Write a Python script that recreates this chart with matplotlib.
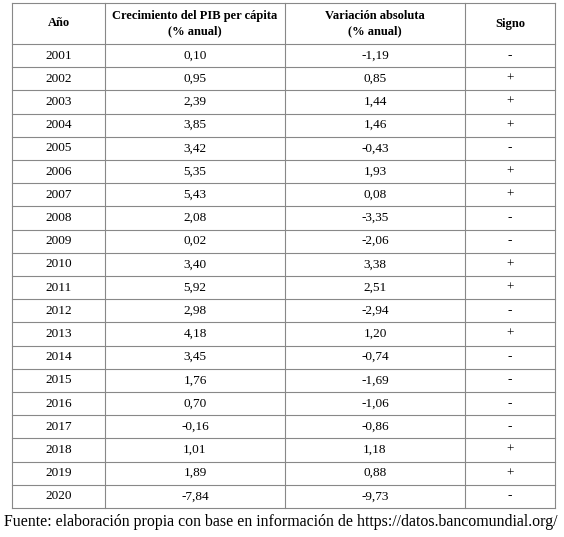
import matplotlib
matplotlib.use("Agg")
import matplotlib.pyplot as plt

years = list(range(2001, 2021))
growth = ["0,10","0,95","2,39","3,85","3,42","5,35","5,43","2,08","0,02","3,40",
          "5,92","2,98","4,18","3,45","1,76","0,70","-0,16","1,01","1,89","-7,84"]
absvar = ["-1,19","0,85","1,44","1,46","-0,43","1,93","0,08","-3,35","-2,06","3,38",
          "2,51","-2,94","1,20","-0,74","-1,69","-1,06","-0,86","1,18","0,88","-9,73"]
sign = ["-","+","+","+","-","+","+","-","-","+","+","-","+","-","-","-","-","+","+","-"]
headers = ["Año", "Crecimiento del PIB per cápita\n(% anual)", "Variación absoluta\n(% anual)", "Signo"]
caption = "Fuente: elaboración propia con base en información de https://datos.bancomundial.org/"

plt.rcParams['font.family'] = ['Liberation Serif', 'DejaVu Serif']
fig = plt.figure(figsize=(5.64, 5.37), dpi=100)
ax = fig.add_axes([0, 0, 1, 1])
ax.set_xlim(0, 564); ax.set_ylim(537, 0); ax.axis('off')

cols = [12, 105, 285, 465, 555]
top, head_bot, row_h = 3, 44, 23.2
n = len(years)
bottom = head_bot + n * row_h
lc = '#888888'
for x in cols:
    ax.plot([x, x], [top, bottom], color=lc, lw=0.8)
ax.plot([cols[0], cols[-1]], [top, top], color=lc, lw=0.8)
ax.plot([cols[0], cols[-1]], [head_bot, head_bot], color=lc, lw=0.8)
for i in range(n):
    y = head_bot + (i + 1) * row_h
    ax.plot([cols[0], cols[-1]], [y, y], color=lc, lw=0.8)

centers = [(cols[j] + cols[j+1]) / 2 for j in range(4)]
for j, h in enumerate(headers):
    ax.text(centers[j], (top + head_bot) / 2, h, ha='center', va='center',
            fontsize=9, fontweight='bold', linespacing=1.4)
for i in range(n):
    y = head_bot + (i + 0.5) * row_h
    for j, v in enumerate([str(years[i]), growth[i], absvar[i], sign[i]]):
        ax.text(centers[j], y, v, ha='center', va='center', fontsize=9.5)
ax.text(281, 522, caption, ha='center', va='center', fontsize=11.4)
fig.savefig("out.png", dpi=100)
